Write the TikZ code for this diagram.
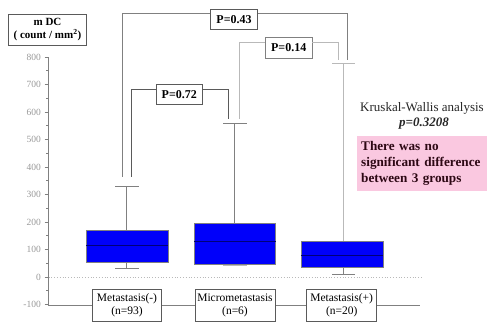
\documentclass[tikz,border=0pt]{standalone}
\usepackage{fontspec}
\setmainfont{Liberation Serif}
\definecolor{boxblue}{RGB}{0,0,250}
\definecolor{medblue}{RGB}{0,0,120}
\definecolor{pinkbg}{RGB}{250,200,224}
\definecolor{pinktxt}{RGB}{45,8,20}
\definecolor{dgray}{RGB}{90,90,90}
\definecolor{mgray}{RGB}{128,128,128}
\definecolor{lgray}{RGB}{185,185,185}
\begin{document}
\begin{tikzpicture}[x=1pt,y=-1pt,
  lbl/.style={draw=dgray, fill=white, line width=0.7pt, font=\fontsize{11.5}{13}\selectfont, align=center, inner sep=0pt, minimum height=32pt},
  pbox/.style={fill=white, line width=0.8pt, font=\fontsize{12}{14}\selectfont\bfseries, inner sep=0pt, minimum width=46.7pt, minimum height=20.5pt},
  bx/.style={fill=boxblue, draw=mgray, line width=0.5pt},
  med/.style={draw=medblue, line width=0.7pt},
  wsk/.style={draw=mgray, line width=0.9pt},
  tick/.style={draw=mgray, line width=0.6pt},
  ticklbl/.style={text=gray!80, font=\fontsize{9.5}{10}\selectfont, anchor=east, inner sep=0pt}]
\useasboundingbox (0,0) rectangle (490,325);
% axis
\coordinate (axtop) at (48.5,57);
\coordinate (axbot) at (48.5,305);
\coordinate (axend) at (420,305);
\draw[draw=mgray, line width=0.7pt] (axtop) -- (axbot) -- (axend);
\foreach \v in {-100,0,...,800}{
  \draw[tick] (44.5,{277-0.275*\v}) -- (48.5,{277-0.275*\v});
  \node[ticklbl] at (41,{277-0.275*\v}) {\v};
}
\foreach \v in {-50,50,...,750}{
  \draw[tick] (46,{277-0.275*\v}) -- (48.5,{277-0.275*\v});
}
% zero dotted line
\coordinate (z0) at (48.5,277);
\coordinate (z1) at (421,277);
\draw[draw=lgray, line width=0.8pt, dotted] (z0) -- (z1);
% y label
\node[draw=dgray, line width=0.7pt, fill=white, align=center, inner sep=0pt, minimum width=78.4pt, minimum height=31pt,
      font=\fontsize{11}{12.5}\selectfont\bfseries] (ylab) at (47.5,29.5) {m DC\\( count / mm\textsuperscript{2})};
% box 1
\coordinate (w1t) at (126.7,186);
\coordinate (w1b) at (126.7,268.7);
\draw[wsk] (w1t) -- (126.7,230);
\draw[wsk] (w1b) -- (126.7,262.7);
\draw[wsk] (115,186) -- (139,186);
\draw[wsk] (115,268.7) -- (139,268.7);
\filldraw[bx] (86,230) rectangle (168,262.7);
\draw[med] (86,245.7) -- (168,245.7);
% box 2
\coordinate (w2t) at (234.3,123);
\draw[wsk] (w2t) -- (234.3,223.3);
\draw[wsk] (223,123) -- (247,123);
\draw[draw=lgray, line width=0.8pt] (223,265) -- (247,265);
\filldraw[bx] (194,223.3) rectangle (275.7,264.3);
\draw[med] (194,241) -- (275.7,241);
% box 3
\coordinate (w3t) at (343.3,63);
\coordinate (w3b) at (343.3,274);
\draw[draw=lgray, line width=0.9pt] (w3t) -- (343.3,241.7);
\draw[wsk] (w3b) -- (343.3,267.7);
\draw[draw=lgray, line width=0.9pt] (332,63) -- (355,63);
\draw[wsk] (332,274) -- (355,274);
\filldraw[bx] (301,241.7) rectangle (383.3,267.7);
\draw[med] (301,255) -- (383.3,255);
% group labels
\node[lbl, minimum width=69.4pt] (g1) at (127,305.5) {Metastasis(-)\\(n=93)};
\node[lbl, minimum width=80pt] (g2) at (235,305.5) {Micrometastasis\\(n=6)};
\node[lbl, minimum width=70pt] (g3) at (341.7,305.5) {Metastasis(+)\\(n=20)};
% brackets
\coordinate (a43) at (122,177);
\coordinate (b43) at (347,60);
\coordinate (a72) at (131,177);
\coordinate (b72) at (228.3,119);
\coordinate (a14) at (239.3,119);
\coordinate (b14) at (338.7,60);
\node[pbox, draw=dgray] (p43) at (234,19.3) {P=0.43};
\draw[draw=mgray, line width=0.9pt] ([yshift=-4.7pt]p43.north west) -| (a43);
\draw[draw=mgray, line width=0.9pt] ([yshift=-4.7pt]p43.north east) -| (b43);
\node[pbox, draw=mgray] (p14) at (288.7,48) {P=0.14};
\draw[draw=lgray, line width=0.9pt] ([yshift=-4.7pt]p14.north west) -| (a14);
\draw[draw=lgray, line width=0.9pt] ([yshift=-4.7pt]p14.north east) -| (b14);
\node[pbox, draw=dgray] (p72) at (179.3,94.5) {P=0.72};
\draw[draw=dgray, line width=0.9pt] ([yshift=-5.7pt]p72.north west) -| (a72);
\draw[draw=dgray, line width=0.9pt] ([yshift=-5.7pt]p72.north east) -| (b72);
% Kruskal-Wallis
\node[font=\fontsize{13}{15}\selectfont, text=black!85, inner sep=0pt] (kw) at (422,108) {Kruskal-Wallis analysis};
\node[font=\fontsize{13}{15}\selectfont\bfseries\itshape, text=black!85, inner sep=0pt] (pv) at (424,124) {p=0.3208};
\node[fill=pinkbg, anchor=north west, align=left, text=pinktxt, inner xsep=4pt, inner ysep=3pt,
      minimum height=55pt, text width=122pt,
      font=\fontsize{13.2}{16}\selectfont\bfseries] (pink) at (357,135.5) {There was no\\significant difference\\between 3 groups};
\end{tikzpicture}
\end{document}
